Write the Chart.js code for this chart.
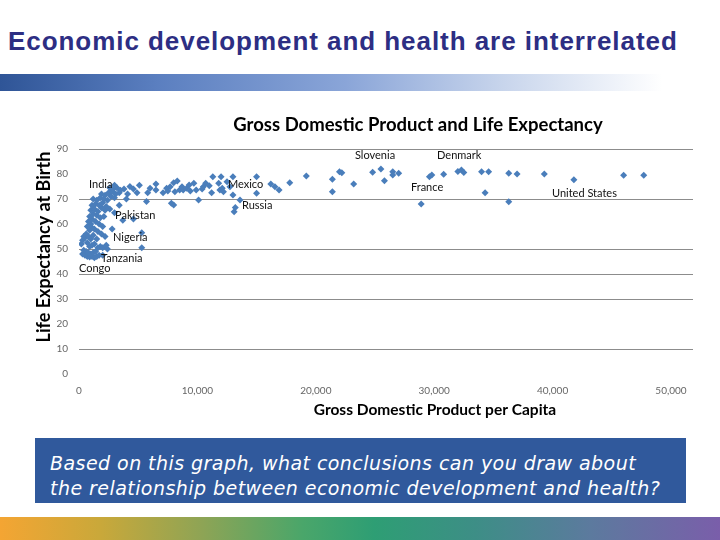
<!DOCTYPE html>
<html>
<head>
<meta charset="utf-8">
<script src="https://cdn.jsdelivr.net/npm/chart.js@4.4.0/dist/chart.umd.min.js"></script>
<style>
html, body { margin: 0; padding: 0; width: 720px; height: 540px; overflow: hidden; background: #fff; }
#slideTitle { position: absolute; left: 8px; top: 26px; font: bold 26px "Liberation Sans", Arial, sans-serif; letter-spacing: 0.95px; color: #2D2E83; white-space: nowrap; }
#topBar { position: absolute; left: 0; top: 74px; width: 720px; height: 17px;
  background: linear-gradient(to right, #2F5597 0%, #5B7FC0 22%, #8AA5D8 48%, #C8D5EC 70%, #FFFFFF 92%); }
#chartBox { position: absolute; left: 0; top: 100px; width: 720px; height: 330px; }
#question { position: absolute; left: 35px; top: 438px; width: 651px; height: 65px; box-sizing: border-box;
  padding: 13px 0 0 15px; background: #30599C; color: #fff; font: italic 19px "DejaVu Sans", sans-serif; letter-spacing: 0.45px; line-height: 25px; white-space: nowrap; }
#bottomBar { position: absolute; left: 0; top: 517px; width: 720px; height: 23px;
  background: linear-gradient(to right, #F4A533 0%, #C9A83A 14%, #8EA455 28%, #4AA66A 42%, #2E9E74 52%, #3D8E86 66%, #5C7A9E 82%, #7A5EAA 100%); }
</style>
</head>
<body>
<div id="slideTitle">Economic development and health are interrelated</div>
<div id="topBar"></div>
<div id="chartBox"><canvas id="GDPLE" width="720" height="330"></canvas></div>
<div id="question">Based on this graph, what conclusions can you draw about<br>the relationship between economic development and health?</div>
<div id="bottomBar"></div>
<script>
//DATOS
const gdpPerCapita = [
    300, 500, 700, 900, 1100, 1300, 1500, 1700, 400, 600, 800, 1000, 1200, 1400, 2000, 1600,
    200, 300, 500, 400, 700, 900, 1100, 1300, 1800, 2000, 2400, 600, 800, 1000, 1200, 1500,
    900, 1100, 700, 1000, 1300, 1600, 1900, 2200, 800, 1100, 1400, 1700, 2000, 900, 1200, 1500,
    1800, 2100, 1000, 1300, 1600, 1900, 2200, 1100, 1400, 1700, 2000, 2300, 2600, 1200, 1500, 1800,
    2100, 2400, 2700, 3000, 1900, 2200, 2500, 2800, 3100, 3400, 2600, 2900, 3200, 3500, 3800, 4100,
    4300, 4600, 4900, 5100, 3000, 3700, 4600, 5300, 5300, 2300, 2800, 3000, 3400, 4000,
    5700, 5800, 6000, 6500, 6500, 7100, 7400, 7500, 7700, 7800, 8000, 8000, 8100, 8300, 8500, 8700,
    8800, 9100, 9300, 9400, 9700, 9900, 10100, 10400, 10500, 10700, 11000, 11200, 11300, 11800, 11900, 12000,
    12100, 12200, 12500, 12750, 13000, 13000, 13600, 13200, 13100, 15000, 15000, 16200, 16550, 16900, 17800,
    19200, 21400, 21400, 22000, 22200, 23200, 24800, 25500, 25800, 26500, 26500, 27000, 28900, 29600, 29800, 30800,
    32000, 32300, 32500, 34000, 34600, 34300, 36300, 37000, 36300, 39300, 41800, 46000, 47700
];
const lifeExpectancy = [
    48, 47.5, 47, 46.8, 47, 46.5, 47, 47.5, 49.5, 49, 48.5, 48, 48.5, 49, 47.5, 50.5,
    52, 53.5, 54.5, 55, 52.5, 51, 51.5, 52, 51, 50.5, 50, 56, 55, 54, 55.5, 54,
    57.5, 58.5, 59, 60, 58, 57, 56, 55, 61, 62, 61, 60, 59, 63, 64, 63.5,
    62.5, 63, 65.5, 66, 65, 66.5, 65.5, 67.5, 68, 67.5, 68.5, 67, 66, 70, 69.5, 70.5,
    70, 69.5, 71, 70.5, 72, 71.5, 72.5, 73, 72, 72.5, 74.5, 74, 74.5, 73.5, 74, 72,
    75, 74, 72.5, 75.5, 64.5, 61.5, 62, 56.5, 50.5, 51.5, 58, 75.5, 67.5, 70,
    69, 72.5, 74.3, 76, 73.6, 72.5, 74.3, 73.2, 74.9, 68.3, 76.5, 67.6, 72.9, 77.2, 73.6, 74.9,
    73.6, 74.3, 75.6, 73.2, 76.3, 73.6, 69.6, 74, 74.9, 76.3, 75.3, 72.5, 78.9, 76.3, 73.6, 78.9,
    74.3, 72.9, 76.9, 74.9, 78.9, 71.6, 69.6, 66.6, 64.9, 78.9, 72.3, 76, 74.9, 73.6, 76.5,
    79.2, 77.9, 72.9, 80.9, 80.5, 76, 80.7, 82, 77.3, 80.9, 79.6, 80.3, 68, 78.9, 79.6, 79.9,
    81, 81.6, 80.6, 80.9, 80.9, 72.5, 80.3, 80, 68.9, 80, 77.7, 79.5, 79.5
];

//ETIQUETAS DE PAISES
const labelNames = ['India', 'Pakistan', 'Nigeria', 'Tanzania', 'Congo', 'Mexico', 'Russia', 'Slovenia', 'Denmark', 'France', 'United States'];
const labelGdp = [850, 3040, 2870, 1860, 0, 12580, 13770, 23310, 30240, 28040, 39950];
const labelLife = [76, 63.6, 54.8, 46.4, 42.4, 76, 67.6, 87.6, 87.6, 74.8, 72.4];

//EJES
const xMax = 51860;
const xTicks = [0, 10000, 20000, 30000, 40000, 50000];
const yMax = 90;
const yStep = 10;
const chartTitle = 'Gross Domestic Product and Life Expectancy';
const xTitle = 'Gross Domestic Product per Capita';
const yTitle = 'Life Expectancy at Birth';
const gridShown = [90, 70, 50, 40, 30, 10];

const slideText = {
    id: 'slideText',
    afterDatasetsDraw(chart) {
        const {ctx, scales: {x, y}} = chart;
        ctx.save();
        ctx.fillStyle = '#111';
        ctx.font = '11px Lato';
        ctx.textBaseline = 'middle';
        ctx.textAlign = 'left';
        labelNames.forEach((name, i) => {
            ctx.fillText(name, x.getPixelForValue(labelGdp[i]), y.getPixelForValue(labelLife[i]));
        });
        ctx.fillStyle = '#000';
        ctx.textAlign = 'center';
        ctx.font = 'bold 18.5px Lato';
        ctx.fillText(chartTitle, 418, 25.5);
        ctx.font = 'bold 15.5px Lato';
        ctx.fillText(xTitle, 435, 310);
        ctx.translate(44, 147);
        ctx.rotate(-Math.PI / 2);
        ctx.font = 'bold 18px Lato';
        ctx.fillText(yTitle, 0, 0);
        ctx.restore();
    }
};

const points = gdpPerCapita.map((g, i) => ({x: g, y: lifeExpectancy[i]}));

new Chart(document.getElementById('GDPLE').getContext('2d'), {
    type: 'scatter',
    plugins: [slideText],
    data: {
        datasets: [{
            data: points,
            pointStyle: 'rectRot',
            pointRadius: 3.5,
            backgroundColor: '#4A7EBB',
            borderColor: '#4A7EBB',
            borderWidth: 0,
        }]
    },
    options: {
        responsive: false,
        animation: false,
        layout: {
            padding: {top: 49, left: 28, right: 27, bottom: 0}
        },
        plugins: {
            legend: {display: false},
            tooltip: {enabled: false},
        },
        scales: {
            x: {
                type: 'linear',
                min: 0,
                max: xMax,
                border: {display: false},
                grid: {display: false, drawTicks: false},
                afterBuildTicks(scale) { scale.ticks = xTicks.map(v => ({value: v})); },
                ticks: {
                    padding: 11,
                    color: '#666',
                    font: {family: 'Lato', size: 10},
                    callback: (v) => v.toLocaleString('en-US'),
                },
                afterFit(scale) { scale.height = 56; }
            },
            y: {
                min: 0,
                max: yMax,
                border: {display: false},
                grid: {
                    drawTicks: false,
                    lineWidth: 1,
                    color: (c) => gridShown.includes(c.tick.value) ? '#8C8C8C' : 'rgba(0,0,0,0)',
                },
                ticks: {
                    stepSize: yStep,
                    padding: 11,
                    color: '#666',
                    font: {family: 'Lato', size: 10},
                },
                afterFit(scale) { scale.width = 51; }
            }
        }
    }
});
</script>
</body>
</html>
